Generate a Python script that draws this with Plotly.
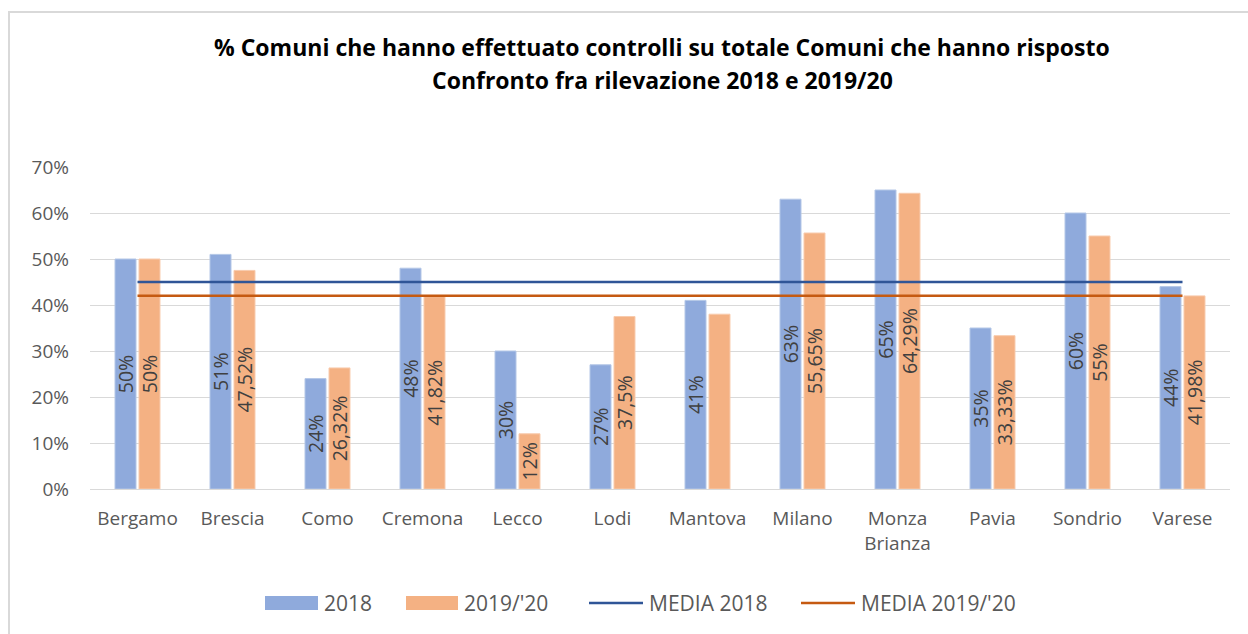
import plotly.graph_objects as go

categories = ["Bergamo", "Brescia", "Como", "Cremona", "Lecco", "Lodi", "Mantova",
              "Milano", "Monza<br>Brianza", "Pavia", "Sondrio", "Varese"]
values_2018 = [0.50, 0.51, 0.24, 0.48, 0.30, 0.27, 0.41, 0.63, 0.65, 0.35, 0.60, 0.44]
values_2019 = [0.50, 0.4752, 0.2632, 0.4182, 0.12, 0.375, 0.38, 0.5565, 0.6429, 0.3333, 0.55, 0.4198]
labels_2018 = ["50%", "51%", "24%", "48%", "30%", "27%", "41%", "63%", "65%", "35%", "60%", "44%"]
labels_2019 = ["50%", "47,52%", "26,32%", "41,82%", "12%", "37,5%", "", "55,65%", "64,29%", "33,33%", "55%", "41,98%"]
media_2018 = 0.45
media_2019 = 0.42
series_names = ["2018", "2019/'20", "MEDIA 2018", "MEDIA 2019/'20"]
series_colors = ["#8faadc", "#f4b183", "#2f5597", "#c55a11"]
title_lines = ["% Comuni che hanno effettuato controlli su totale Comuni che hanno risposto",
               "Confronto fra rilevazione 2018 e 2019/20"]

FONT = "Open Sans, Noto Sans, sans-serif"
W, H = 1248, 634
ML, MR, MT, MB = 90, 18, 167, 145
PW, PH = W - ML - MR, H - MT - MB


def px(x):
    return (x - ML) / PW


def py(y):
    return (H - MB - y) / PH


label_font = dict(family=FONT, size=19.5, color="#404040")

fig = go.Figure()
fig.add_trace(go.Bar(
    x=categories, y=values_2018, name=series_names[0],
    marker=dict(color=series_colors[0], line=dict(color="#b4c7e7", width=1)),
    text=labels_2018, textposition="inside", insidetextanchor="middle",
    textangle=-90, textfont=label_font, constraintext="none",
    hoverinfo="skip", showlegend=False,
))
fig.add_trace(go.Bar(
    x=categories, y=values_2019, name=series_names[1],
    marker=dict(color=series_colors[1], line=dict(color="#f8cbad", width=1)),
    text=labels_2019, textposition="inside", insidetextanchor="middle",
    textangle=-90, textfont=label_font, constraintext="none",
    hoverinfo="skip", showlegend=False,
))
fig.add_trace(go.Scatter(
    x=categories, y=[media_2018] * len(categories), name=series_names[2],
    mode="lines", line=dict(color=series_colors[2], width=2.5), hoverinfo="skip",
    showlegend=False,
))
fig.add_trace(go.Scatter(
    x=categories, y=[media_2019] * len(categories), name=series_names[3],
    mode="lines", line=dict(color=series_colors[3], width=2.5), hoverinfo="skip",
    showlegend=False,
))

shapes = []
annotations = []

# outer chart border (top and left visible)
shapes.append(dict(type="rect", xref="paper", yref="paper",
                   x0=px(9), y0=py(H + 20), x1=px(W + 20), y1=py(12),
                   line=dict(color="#d9d9d9", width=2), layer="below"))

# title (two lines)
for text, yy in zip(title_lines, [47, 80]):
    annotations.append(dict(text="<b>" + text + "</b>", xref="paper", yref="paper",
                            x=px(662), y=py(yy), xanchor="center", yanchor="middle",
                            showarrow=False,
                            font=dict(family=FONT, size=23, color="#000000")))

# manual legend
leg_y = 603
sym_x = [(265, 318), (406, 458), (589, 643), (801, 855)]
for i, (name, color) in enumerate(zip(series_names, series_colors)):
    x0, x1 = sym_x[i]
    if i < 2:
        shapes.append(dict(type="rect", xref="paper", yref="paper",
                           x0=px(x0), x1=px(x1), y0=py(leg_y + 7), y1=py(leg_y - 7),
                           fillcolor=color, line=dict(width=0)))
    else:
        shapes.append(dict(type="line", xref="paper", yref="paper",
                           x0=px(x0), x1=px(x1), y0=py(leg_y), y1=py(leg_y),
                           line=dict(color=color, width=2.5)))
    annotations.append(dict(text=name, xref="paper", yref="paper",
                            x=px(x1 + 4), y=py(leg_y), xanchor="left", yanchor="middle",
                            showarrow=False,
                            font=dict(family=FONT, size=21, color="#595959")))

fig.update_layout(
    width=W, height=H,
    margin=dict(l=ML, r=MR, t=MT, b=MB),
    paper_bgcolor="white", plot_bgcolor="white",
    barmode="group", bargap=0.495, bargroupgap=0.125,
    font=dict(family=FONT, color="#595959"),
    yaxis=dict(
        range=[0, 0.7], dtick=0.1, tickformat=".0%",
        showgrid=True, gridcolor="#d9d9d9", gridwidth=1,
        zeroline=True, zerolinecolor="#d9d9d9", zerolinewidth=1,
        tickfont=dict(family=FONT, size=19, color="#595959"),
        ticklabelstandoff=20, fixedrange=True,
    ),
    xaxis=dict(
        showline=False, showgrid=False,
        tickfont=dict(family=FONT, size=19, color="#595959"),
        ticklabelstandoff=16,
    ),
    shapes=shapes,
    annotations=annotations,
    showlegend=False,
)

fig.write_html("out.html",
               config={"displayModeBar": False},
               post_script="document.body.style.margin='0';document.body.style.overflow='hidden';")
